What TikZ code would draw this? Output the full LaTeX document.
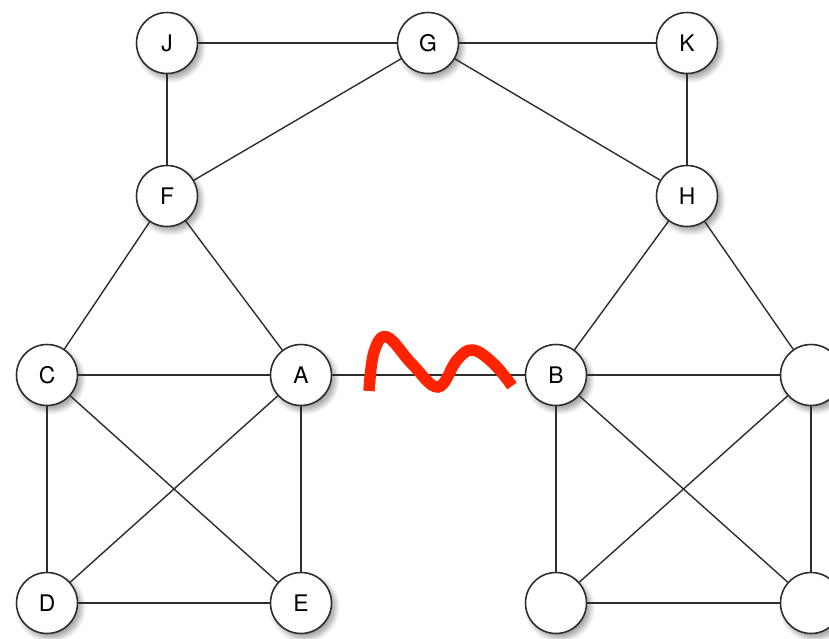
\documentclass[tikz,border=0pt]{standalone}
\usepackage{fontspec}
\setsansfont{TeX Gyre Heros}
\usetikzlibrary{shadows.blur}
\definecolor{edgegray}{RGB}{45,45,45}
\definecolor{cutred}{RGB}{255,35,0}
\tikzset{
  vert/.style={circle, draw=edgegray, line width=0.9pt, fill=white, minimum size=1.22cm, inner sep=0pt,
    font=\sffamily\fontsize{13}{15}\selectfont,
    blur shadow={shadow xshift=2pt, shadow yshift=-2.5pt, shadow blur radius=3pt, shadow blur steps=10, shadow opacity=40}},
  link/.style={draw=edgegray, line width=0.8pt},
  cut/.style={draw=cutred, line width=6.5pt}
}

\begin{document}
\begin{tikzpicture}[x=0.02cm, y=-0.02cm]
    \useasboundingbox (0,0) rectangle (829,639);
    \clip (0,0) rectangle (829,639);
    % upper part
    \node[vert] (J) at (167,43) {J};
    \node[vert] (G) at (428,43) {G};
    \node[vert] (K) at (687,43) {K};
    \node[vert] (F) at (167,196) {F};
    \node[vert] (H) at (687,196) {H};
    % left cluster
    \node[vert] (C) at (47,375) {C};
    \node[vert] (A) at (301,375) {A};
    \node[vert] (D) at (47,603) {D};
    \node[vert] (E) at (301,603) {E};
    % right cluster
    \node[vert] (B) at (556,375) {B};
    \node[vert] (R) at (811,375) {};
    \node[vert] (BL) at (556,603) {};
    \node[vert] (BR) at (811,603) {};
    % edges
    \foreach \u/\v in {J/G, G/K, J/F, G/F, G/H, K/H, F/C, F/A, H/B, H/R,
                       C/A, A/B, B/R, C/D, C/E, A/D, A/E, D/E,
                       B/BL, B/BR, R/BL, R/BR, BL/BR}
      \draw[link] (\u) -- (\v);
    % cut mark across A--B
    \draw[cut] plot[smooth, tension=0.65] coordinates {(369,391) (374,352) (387,337) (412,364) (438,387) (457,360) (473,350) (494,364) (512,386)};
  \end{tikzpicture}
\end{document}
